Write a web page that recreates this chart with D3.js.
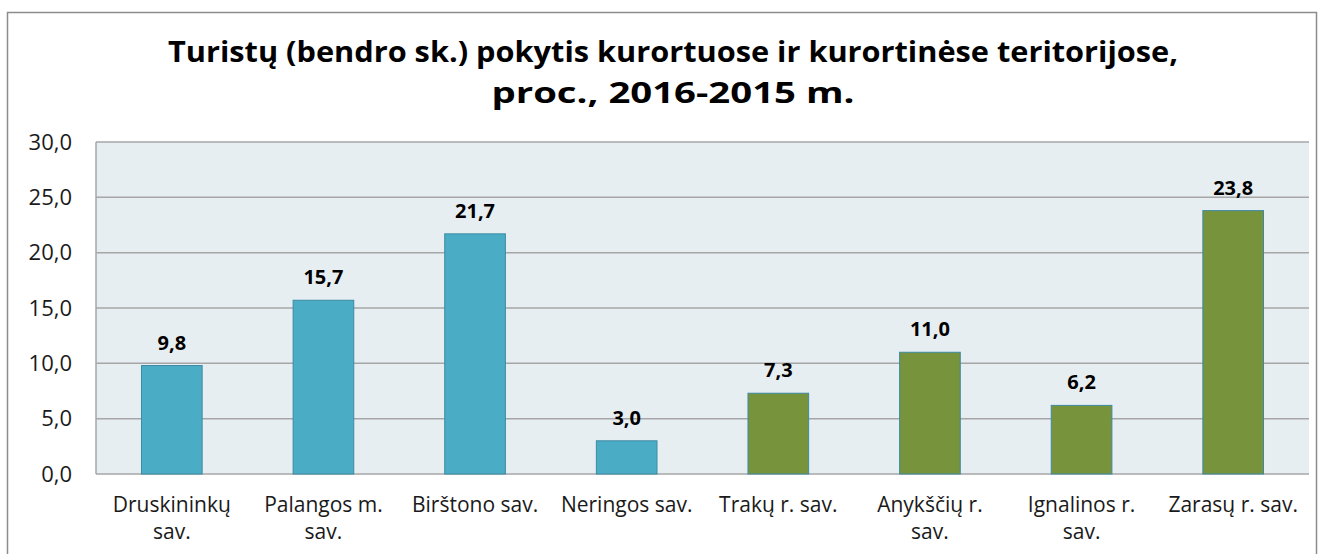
<!DOCTYPE html>
<html>
<head>
<meta charset="utf-8">
<script src="https://cdn.jsdelivr.net/npm/d3@7"></script>
<style>
  body { margin: 0; background: #fff; }
  svg text { font-family: "Open Sans", "DejaVu Sans", sans-serif; }
</style>
</head>
<body>
<div id="chart"></div>
<script>
// duomenys
const categories = ["Druskininkų\nsav.", "Palangos m.\nsav.", "Birštono sav.", "Neringos sav.",
                    "Trakų r. sav.", "Anykščių r.\nsav.", "Ignalinos r.\nsav.", "Zarasų r. sav."];
const values = [9.8, 15.7, 21.7, 3.0, 7.3, 11.0, 6.2, 23.8];
const groups = ["kurortas", "kurortas", "kurortas", "kurortas", "teritorija", "teritorija", "teritorija", "teritorija"];
const yTicks = [0, 5, 10, 15, 20, 25, 30];
const titleLines = ["Turistų (bendro sk.) pokytis kurortuose ir kurortinėse teritorijose,", "proc., 2016-2015 m."];

const W = 1327, H = 554;
const margin = { top: 142, right: 18, bottom: 80, left: 96 };
const innerW = W - margin.left - margin.right;
const innerH = 474 - margin.top;

const svg = d3.select("#chart").append("svg")
    .attr("width", W).attr("height", H);

// rėmelis
svg.append("rect")
    .attr("x", 7.5).attr("y", 12.5)
    .attr("width", 1309).attr("height", 560)
    .attr("fill", "#fff").attr("stroke", "#8c8c8c").attr("stroke-width", 1.5);

// pavadinimas
const titleW = [1010, 363];
titleLines.forEach((t, i) => {
    svg.append("text")
        .attr("x", 673).attr("y", 62 + i * 41)
        .attr("text-anchor", "middle")
        .style("font-size", "28px").style("font-weight", "bold").style("fill", "#000")
        .attr("textLength", titleW[i]).attr("lengthAdjust", "spacingAndGlyphs")
        .text(t);
});

const g = svg.append("g").attr("transform", `translate(${margin.left},${margin.top})`);

const x = d3.scaleBand().domain(categories).range([0, innerW])
    .paddingInner(0.6).paddingOuter(0.3);
const y = d3.scaleLinear().domain([0, 30]).range([innerH, 0]);

// fonas
g.append("rect").attr("width", innerW).attr("height", innerH).attr("fill", "#e7eef2");

// tinklelis
g.selectAll(".grid").data(yTicks).join("line")
    .attr("x1", 0).attr("x2", innerW)
    .attr("y1", d => y(d)).attr("y2", d => y(d))
    .attr("stroke", "#a6a6a6").attr("stroke-width", 1.5);

// kairė ašis
g.append("line").attr("x1", 0).attr("x2", 0).attr("y1", 0).attr("y2", innerH)
    .attr("stroke", "#a6a6a6").attr("stroke-width", 1.5);

const yAxis = g.append("g")
    .call(d3.axisLeft(y).tickValues(yTicks).tickSize(0).tickPadding(24)
        .tickFormat(d => d3.format(".1f")(d).replace(".", ",")));
yAxis.select(".domain").remove();
yAxis.selectAll("text").style("font-size", "22px").style("fill", "#1a1a1a")
    .style("font-family", "\"Open Sans\", sans-serif");

// stulpeliai
const color = { kurortas: "#4bacc6", teritorija: "#77933c" };
g.selectAll(".bar").data(values).join("rect")
    .attr("class", "bar")
    .attr("x", (d, i) => x(categories[i]))
    .attr("y", d => y(d))
    .attr("width", x.bandwidth())
    .attr("height", d => innerH - y(d))
    .attr("fill", (d, i) => color[groups[i]])
    .attr("stroke", "#3d8aa3").attr("stroke-width", 1);

// reikšmės
g.selectAll(".val").data(values).join("text")
    .attr("x", (d, i) => x(categories[i]) + x.bandwidth() / 2)
    .attr("y", d => y(d) - 16)
    .attr("text-anchor", "middle")
    .style("font-size", "20px").style("font-weight", "bold").style("fill", "#000")
    .text(d => d3.format(".1f")(d).replace(".", ","));

// kategorijos (kiekviena eilutė atskiras tekstas)
categories.forEach(c => {
    c.split("\n").forEach((line, j) => {
        g.append("text")
            .attr("x", x(c) + x.bandwidth() / 2)
            .attr("y", innerH + 38 + j * 27)
            .attr("text-anchor", "middle")
            .style("font-size", "21px").style("fill", "#1a1a1a")
            .text(line);
    });
});
</script>
</body>
</html>
